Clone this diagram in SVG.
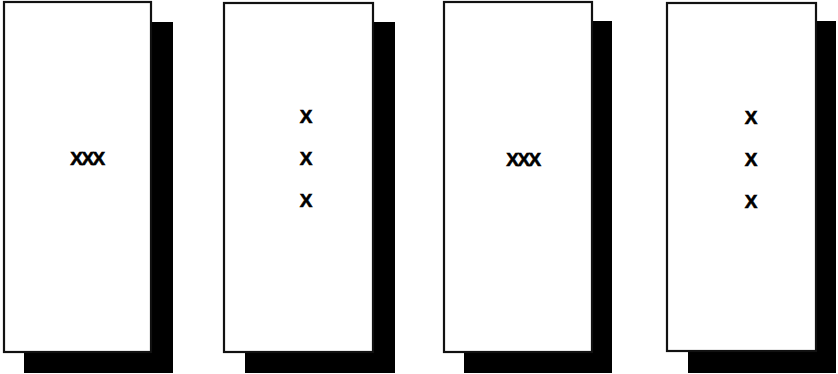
<svg xmlns="http://www.w3.org/2000/svg" width="838" height="374" viewBox="0 0 838 374">
<style>
.shadow{fill:#000}
.box{fill:#fff;stroke:#111;stroke-width:2.2}
.t{font-family:"Liberation Sans",Arial,sans-serif;font-weight:bold;font-size:19px;fill:#000;stroke:#000;stroke-width:0.6;text-anchor:middle}
</style>
<rect width="838" height="374" fill="#fff"/>
<g id="node1">
<rect class="shadow" x="24" y="22" width="149" height="351"/>
<rect class="box" x="4" y="2" width="147" height="350"/>
<text class="t" x="87" y="165" letter-spacing="-1.5">XXX</text>
</g>
<g id="node2">
<rect class="shadow" x="245" y="22" width="150" height="351"/>
<rect class="box" x="224" y="3" width="149" height="349"/>
<text class="t" x="306" y="123">X</text>
<text class="t" x="306" y="165">X</text>
<text class="t" x="306" y="207">X</text>
</g>
<g id="node3">
<rect class="shadow" x="464" y="21" width="148" height="352"/>
<rect class="box" x="444" y="2" width="148" height="350"/>
<text class="t" x="523" y="166" letter-spacing="-1.5">XXX</text>
</g>
<g id="node4">
<rect class="shadow" x="688" y="21" width="148" height="352"/>
<rect class="box" x="667" y="3" width="149" height="348"/>
<text class="t" x="751" y="124">X</text>
<text class="t" x="751" y="166">X</text>
<text class="t" x="751" y="208">X</text>
</g>
<g id="connectors"/>
</svg>
